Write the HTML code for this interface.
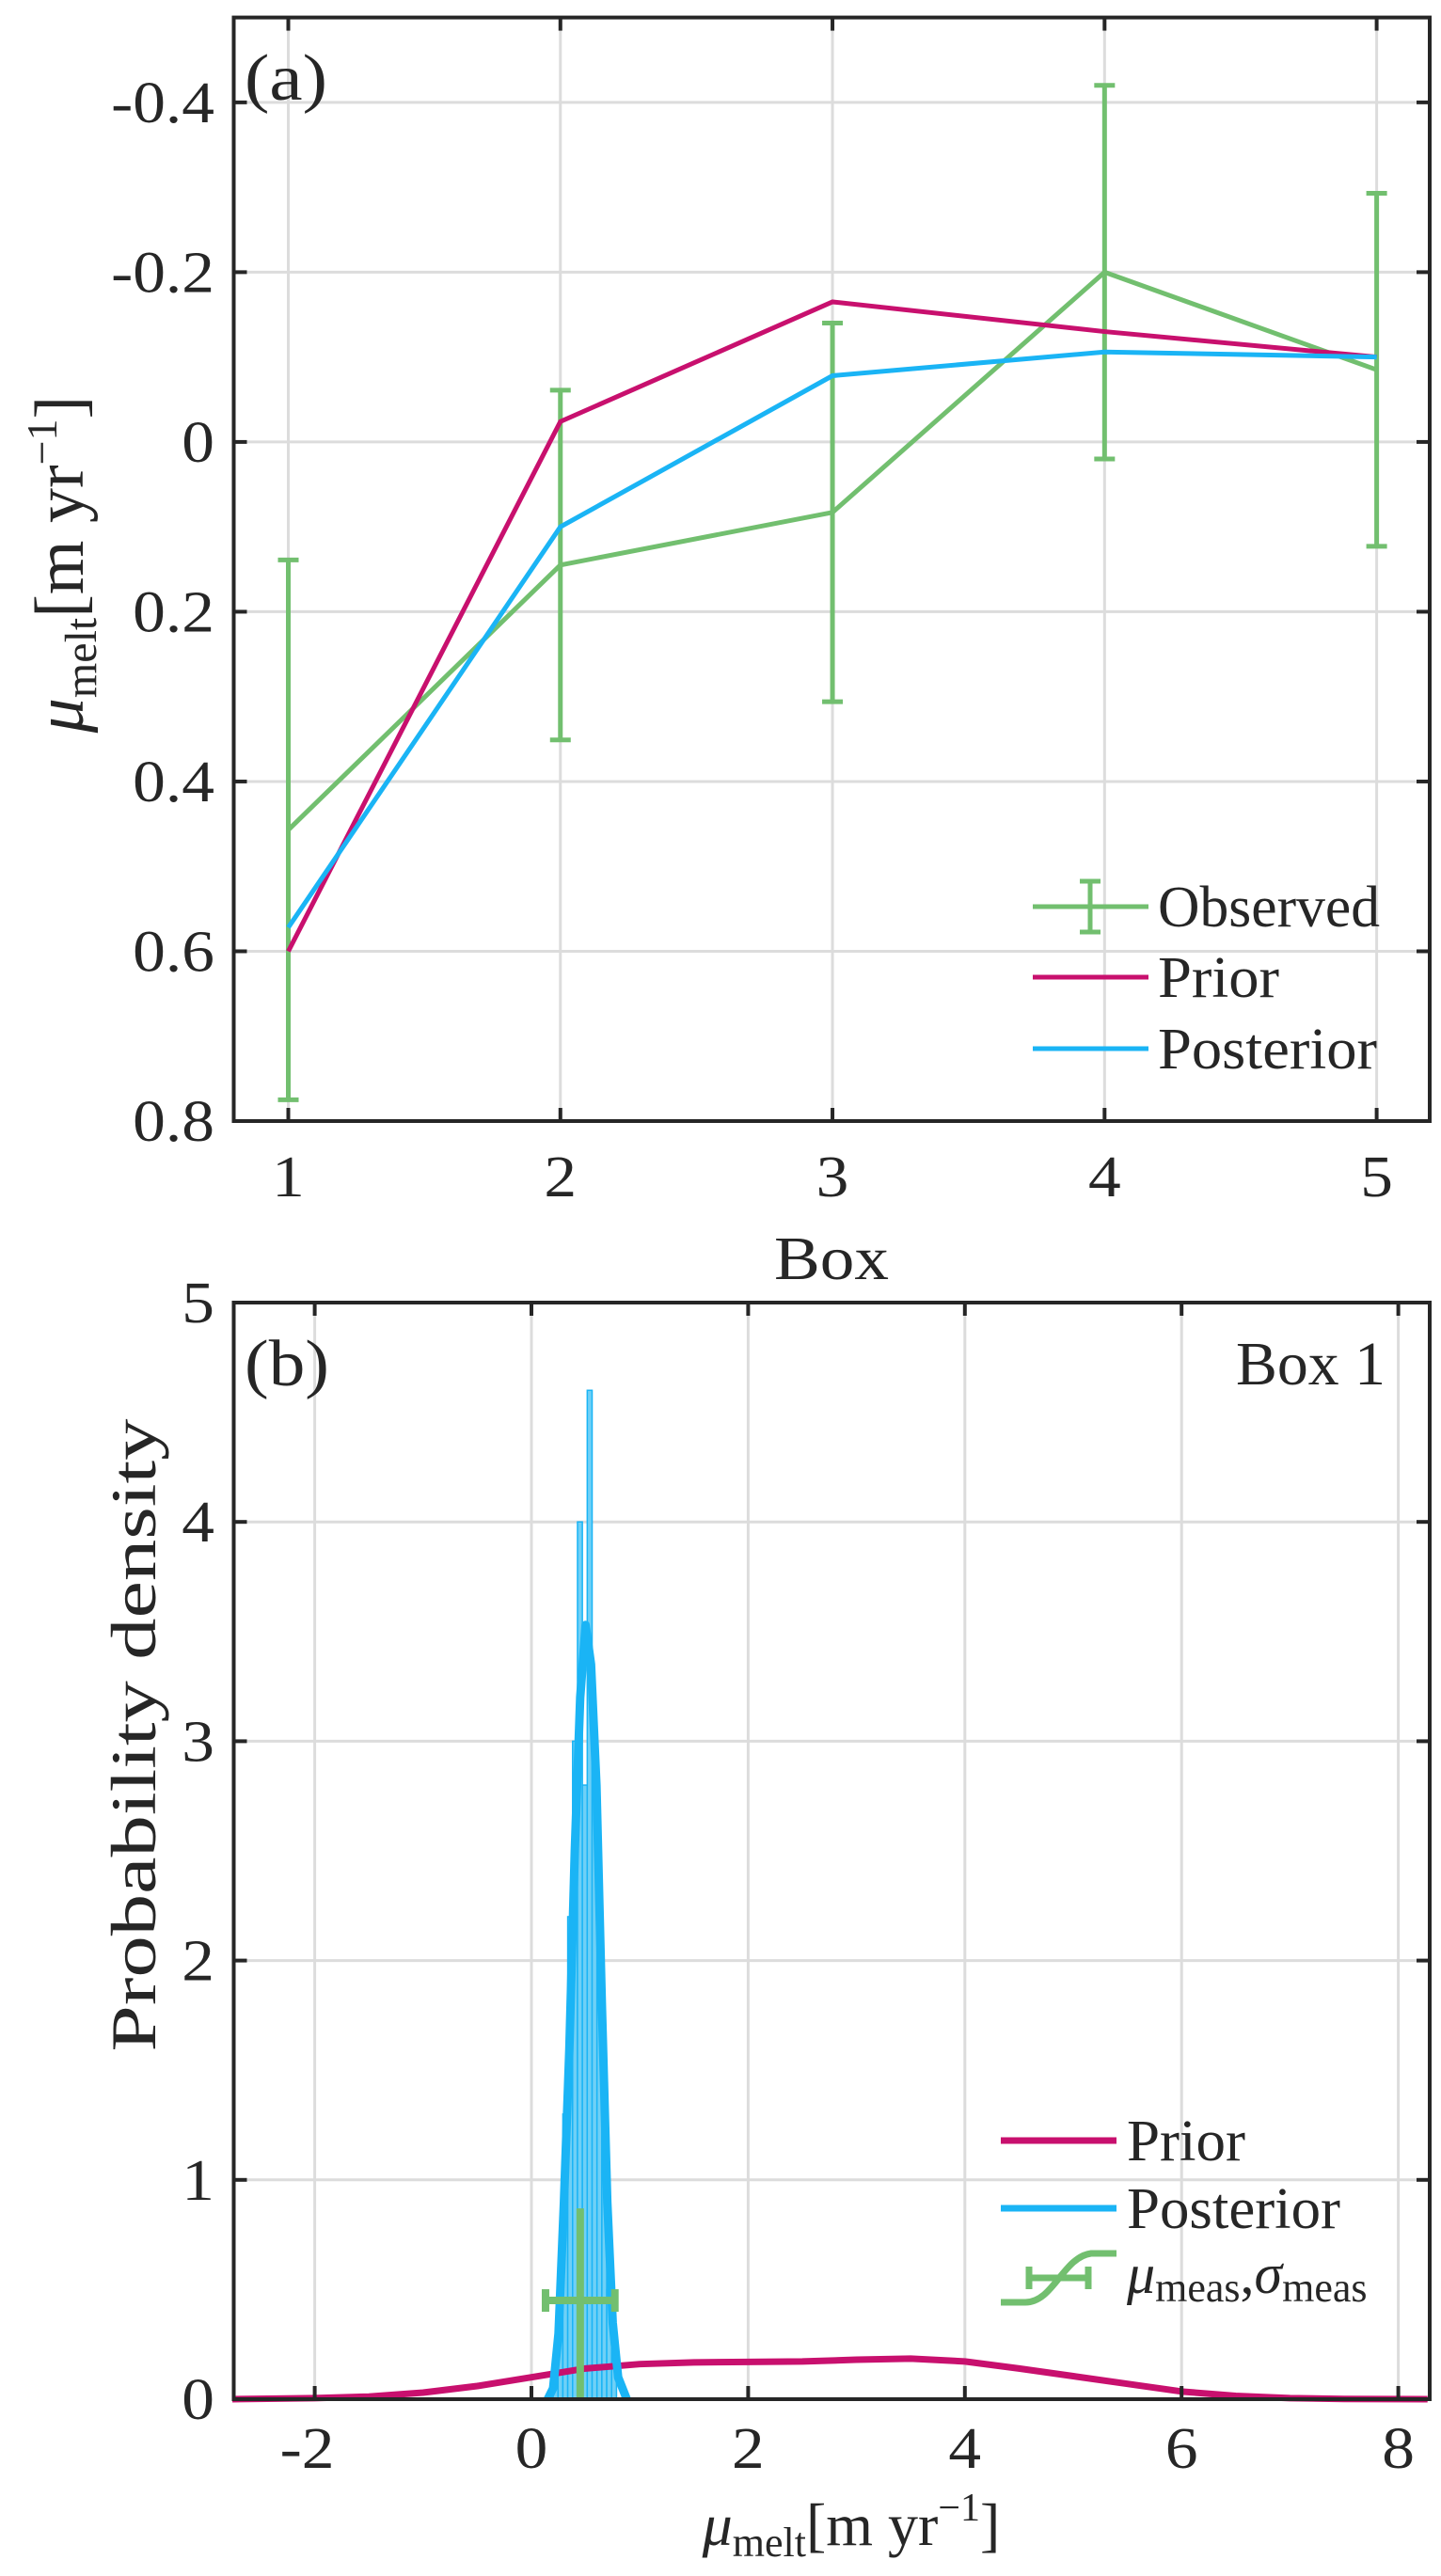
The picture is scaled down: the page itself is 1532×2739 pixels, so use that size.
<!DOCTYPE html>
<html><head><meta charset="utf-8"><style>
html,body{margin:0;padding:0;background:#fff}
svg text{font-family:"Liberation Serif",serif;fill:#262626}
</style></head><body>
<svg id="fig" xmlns="http://www.w3.org/2000/svg" width="1532" height="2734" viewBox="0 0 1532 2734">
<rect x="0" y="0" width="1532" height="2734" fill="#fff"/>
<g id="pa"></g>
<g id="pb"></g>
</svg>
<script>
// Panel (a) data
const boxes = [1, 2, 3, 4, 5];
const observed = [0.457, 0.145, 0.083, -0.200, -0.085];
const observedErr = [0.318, 0.206, 0.223, 0.220, 0.208];
const prior = [0.600, -0.024, -0.165, -0.130, -0.100];
const posterior = [0.572, 0.100, -0.078, -0.106, -0.100];
const yTicksA = [-0.4, -0.2, 0, 0.2, 0.4, 0.6, 0.8];
const yTickLabelsA = ["-0.4", "-0.2", "0", "0.2", "0.4", "0.6", "0.8"];
// Panel (b) data
const priorX = [-2.76, -2.0, -1.5, -1.0, -0.5, 0.0, 0.5, 1.0, 1.5, 2.0, 2.5, 3.0, 3.5, 4.0, 4.5, 5.0, 5.5, 6.0, 6.5, 7.0, 7.5, 8.27];
const priorY = [0.0, 0.005, 0.012, 0.03, 0.06, 0.10, 0.14, 0.16, 0.168, 0.17, 0.172, 0.18, 0.185, 0.172, 0.14, 0.105, 0.07, 0.035, 0.015, 0.005, 0.001, 0.0];
const postX = [0.15, 0.2, 0.25, 0.3, 0.35, 0.4, 0.45, 0.5, 0.55, 0.6, 0.65, 0.7, 0.75, 0.8, 0.88];
const postY = [0.0, 0.05, 0.3, 0.9, 1.6, 2.5, 3.2, 3.53, 3.35, 2.8, 1.8, 0.9, 0.35, 0.1, 0.0];
const histEdges = [0.2, 0.245, 0.29, 0.335, 0.38, 0.425, 0.47, 0.515, 0.56, 0.605, 0.65, 0.695, 0.74, 0.785];
const histHeights = [0.2, 0.6, 1.3, 2.2, 3.0, 4.0, 2.8, 4.6, 3.0, 2.2, 1.2, 0.5, 0.15];
const measMu = 0.45, measSigma = 0.32, measY = 0.45, measTop = 0.87;
const xTicksB = [-2, 0, 2, 4, 6, 8];
const xTickLabelsB = ["-2", "0", "2", "4", "6", "8"];
const yTicksB = [0, 1, 2, 3, 4, 5];

const NS = "http://www.w3.org/2000/svg";
function mk(parent, tag, attrs, text) {
  const e = document.createElementNS(NS, tag);
  for (const k in attrs) e.setAttribute(k, attrs[k]);
  if (text !== undefined) e.textContent = text;
  parent.appendChild(e);
  return e;
}
const AX = "#262626", GRID = "#dcdcdc", GREEN = "#72bf6f", PINK = "#c8106e", BLUE = "#1ab4f5";
const TF = 62;

// ---------- Panel A ----------
const pa = document.getElementById('pa');
const A = {l: 248.5, r: 1520, t: 18.6, b: 1192};
const xa = v => 306.5 + (v - 1) * (1463.6 - 306.5) / 4;
const ya = v => 18.6 + (v + 0.5) * (1192 - 18.6) / 1.3;
boxes.forEach(b => {
  const g = mk(pa, 'line', {x1: xa(b), x2: xa(b), y1: A.t, y2: A.b, stroke: GRID, 'stroke-width': 3});
  
  
});
yTicksA.forEach(v => {
  const g = mk(pa, 'line', {x1: A.l, x2: A.r, y1: ya(v), y2: ya(v), stroke: GRID, 'stroke-width': 3});
  
  
});
function polyPts(xs, ys, fx, fy) { return xs.map((x, i) => fx(x) + ',' + fy(ys[i])).join(' '); }
const obsLine = mk(pa, 'polyline', {points: polyPts(boxes, observed, xa, ya), fill: 'none', stroke: GREEN, 'stroke-width': 5});


boxes.forEach((b, i) => {
  const g = mk(pa, 'g', {stroke: GREEN, 'stroke-width': 5});
  
  
  const lo = observed[i] - observedErr[i], hi = observed[i] + observedErr[i];
  mk(g, 'line', {x1: xa(b), x2: xa(b), y1: ya(lo), y2: ya(hi)});
  mk(g, 'line', {x1: xa(b) - 11, x2: xa(b) + 11, y1: ya(lo), y2: ya(lo)});
  mk(g, 'line', {x1: xa(b) - 11, x2: xa(b) + 11, y1: ya(hi), y2: ya(hi)});
});
const prLine = mk(pa, 'polyline', {points: polyPts(boxes, prior, xa, ya), fill: 'none', stroke: PINK, 'stroke-width': 5});


const poLine = mk(pa, 'polyline', {points: polyPts(boxes, posterior, xa, ya), fill: 'none', stroke: BLUE, 'stroke-width': 5});


const frA = mk(pa, 'rect', {x: A.l, y: A.t, width: A.r - A.l, height: A.b - A.t, fill: 'none', stroke: AX, 'stroke-width': 4});


boxes.forEach((b, i) => {
  mk(pa, 'line', {x1: xa(b), x2: xa(b), y1: A.b, y2: A.b - 14, stroke: AX, 'stroke-width': 4});
  mk(pa, 'line', {x1: xa(b), x2: xa(b), y1: A.t, y2: A.t + 14, stroke: AX, 'stroke-width': 4});
  const t = mk(pa, 'text', {x: xa(b), y: 1272, 'text-anchor': 'middle', 'font-size': TF, 'data-k': 1.12}, String(b));
  
  
});
yTicksA.forEach((v, i) => {
  mk(pa, 'line', {x1: A.l, x2: A.l + 14, y1: ya(v), y2: ya(v), stroke: AX, 'stroke-width': 4});
  mk(pa, 'line', {x1: A.r, x2: A.r - 14, y1: ya(v), y2: ya(v), stroke: AX, 'stroke-width': 4});
  const t = mk(pa, 'text', {x: 228, y: ya(v) + 21, 'text-anchor': 'end', 'font-size': TF, 'data-k': 1.12}, yTickLabelsA[i]);
  
  
});
pa.insertAdjacentHTML('beforeend',
 '<text x="260" y="106" font-size="70" textLength="88" lengthAdjust="spacingAndGlyphs">(a)</text>' +
 '<text x="884" y="1360" font-size="66" text-anchor="middle" textLength="122" lengthAdjust="spacingAndGlyphs">Box</text>' +
 '<text transform="translate(88,600) rotate(-90)" text-anchor="middle" font-size="74"><tspan font-style="italic">μ</tspan><tspan font-size="48" dy="14">melt</tspan><tspan dy="-14">[m yr</tspan><tspan font-size="46" dy="-28">−1</tspan><tspan dy="28">]</tspan></text>' +
 '<g>' +
 '<g><line x1="1098" x2="1221" y1="964" y2="964" stroke="#72bf6f" stroke-width="5"/><line x1="1159" x2="1159" y1="937" y2="991" stroke="#72bf6f" stroke-width="5"/><line x1="1148" x2="1170" y1="937" y2="937" stroke="#72bf6f" stroke-width="5"/><line x1="1148" x2="1170" y1="991" y2="991" stroke="#72bf6f" stroke-width="5"/><text x="1231" y="985" font-size="62" textLength="236" lengthAdjust="spacingAndGlyphs">Observed</text></g>' +
 '<g><line x1="1098" x2="1221" y1="1039" y2="1039" stroke="#c8106e" stroke-width="5"/><text x="1231" y="1060" font-size="62" textLength="129" lengthAdjust="spacingAndGlyphs">Prior</text></g>' +
 '<g><line x1="1098" x2="1221" y1="1115" y2="1115" stroke="#1ab4f5" stroke-width="5"/><text x="1231" y="1136" font-size="62" textLength="233" lengthAdjust="spacingAndGlyphs">Posterior</text></g>' +
 '</g>');
</script>
<script>
// ---------- Panel B ----------
(function(){
const pb = document.getElementById('pb');
const B = {l: 248.5, r: 1520, t: 1385, b: 2551};
const xb = v => 565 + v * 115.2;
const yb = v => B.b - v * (B.b - B.t) / 5;
xTicksB.forEach(v => {
  const g = mk(pb, 'line', {x1: xb(v), x2: xb(v), y1: B.t, y2: B.b, stroke: GRID, 'stroke-width': 3});
  
  
});
yTicksB.forEach(v => {
  const g = mk(pb, 'line', {x1: B.l, x2: B.r, y1: yb(v), y2: yb(v), stroke: GRID, 'stroke-width': 3});
  
  
});
histHeights.forEach((h, i) => {
  const x0 = xb(histEdges[i]), x1 = xb(histEdges[i + 1]);
  const r = mk(pb, 'rect', {x: x0, y: yb(h), width: x1 - x0, height: yb(0) - yb(h), fill: '#6fd0f6', stroke: BLUE, 'stroke-width': 1.5});
  
  
});
const pts = (xs, ys) => xs.map((x, i) => xb(x) + ',' + yb(ys[i])).join(' ');
const pr = mk(pb, 'polyline', {points: pts(priorX, priorY), fill: 'none', stroke: PINK, 'stroke-width': 7, 'stroke-linejoin': 'round'});


const po = mk(pb, 'polyline', {points: pts(postX, postY), fill: 'none', stroke: BLUE, 'stroke-width': 9, 'stroke-linejoin': 'round'});


const mg = mk(pb, 'g', {stroke: GREEN, 'stroke-width': 8});


mk(mg, 'line', {x1: xb(measMu), x2: xb(measMu), y1: yb(0), y2: yb(measTop)});
mk(mg, 'line', {x1: xb(measMu - measSigma), x2: xb(measMu + measSigma), y1: yb(measY), y2: yb(measY)});
mk(mg, 'line', {x1: xb(measMu - measSigma), x2: xb(measMu - measSigma), y1: yb(measY) - 12, y2: yb(measY) + 12});
mk(mg, 'line', {x1: xb(measMu + measSigma), x2: xb(measMu + measSigma), y1: yb(measY) - 12, y2: yb(measY) + 12});
const fr = mk(pb, 'rect', {x: B.l, y: B.t, width: B.r - B.l, height: B.b - B.t, fill: 'none', stroke: AX, 'stroke-width': 4});


xTicksB.forEach((v, i) => {
  mk(pb, 'line', {x1: xb(v), x2: xb(v), y1: B.b, y2: B.b - 14, stroke: AX, 'stroke-width': 4});
  mk(pb, 'line', {x1: xb(v), x2: xb(v), y1: B.t, y2: B.t + 14, stroke: AX, 'stroke-width': 4});
  const t = mk(pb, 'text', {x: xb(v) - (v < 0 ? 8 : 0), y: 2624, 'text-anchor': 'middle', 'font-size': TF, 'data-k': 1.12}, xTickLabelsB[i]);
  
  
});
yTicksB.forEach(v => {
  mk(pb, 'line', {x1: B.l, x2: B.l + 14, y1: yb(v), y2: yb(v), stroke: AX, 'stroke-width': 4});
  mk(pb, 'line', {x1: B.r, x2: B.r - 14, y1: yb(v), y2: yb(v), stroke: AX, 'stroke-width': 4});
  const t = mk(pb, 'text', {x: 228, y: yb(v) + 21, 'text-anchor': 'end', 'font-size': TF, 'data-k': 1.12}, String(v));
  
  
});
pb.insertAdjacentHTML('beforeend',
 '<text x="260" y="1473" font-size="70" textLength="90" lengthAdjust="spacingAndGlyphs">(b)</text>' +
 '<text x="1473" y="1472" font-size="66" text-anchor="end" textLength="159" lengthAdjust="spacingAndGlyphs">Box 1</text>' +
 '<text transform="translate(165,1845) rotate(-90)" text-anchor="middle" font-size="68" textLength="673" lengthAdjust="spacingAndGlyphs">Probability density</text>' +
 '<text x="905" y="2706" text-anchor="middle" font-size="64"><tspan font-style="italic">μ</tspan><tspan font-size="44" dy="12">melt</tspan><tspan dy="-12">[m yr</tspan><tspan font-size="42" dy="-26">−1</tspan><tspan dy="26">]</tspan></text>' +
 '<g>' +
 '<g><line x1="1064" x2="1187" y1="2276" y2="2276" stroke="#c8106e" stroke-width="7"/><text x="1198" y="2297" font-size="62" textLength="126" lengthAdjust="spacingAndGlyphs">Prior</text></g>' +
 '<g><line x1="1064" x2="1187" y1="2348" y2="2348" stroke="#1ab4f5" stroke-width="7"/><text x="1198" y="2369" font-size="62" textLength="227" lengthAdjust="spacingAndGlyphs">Posterior</text></g>' +
 '<g><path d="M1064 2448 L1090 2448 C1120 2448 1130 2400 1160 2396 L1187 2396" fill="none" stroke="#72bf6f" stroke-width="7"/><line x1="1094" x2="1157" y1="2422" y2="2422" stroke="#72bf6f" stroke-width="7"/><line x1="1094" x2="1094" y1="2410" y2="2434" stroke="#72bf6f" stroke-width="7"/><line x1="1157" x2="1157" y1="2410" y2="2434" stroke="#72bf6f" stroke-width="7"/>' +
 '<text x="1198" y="2438" font-size="60"><tspan font-style="italic">μ</tspan><tspan font-size="44" dy="9">meas</tspan><tspan dy="-9">,</tspan><tspan font-style="italic">σ</tspan><tspan font-size="44" dy="9">meas</tspan></text></g>' +
 '</g>');
document.querySelectorAll('text[data-k]').forEach(t => {
  const k = parseFloat(t.getAttribute('data-k'));
  const L = t.getComputedTextLength();
  t.setAttribute('textLength', (L * k).toFixed(1));
  t.setAttribute('lengthAdjust', 'spacingAndGlyphs');
});
})();
</script>
</body></html>
